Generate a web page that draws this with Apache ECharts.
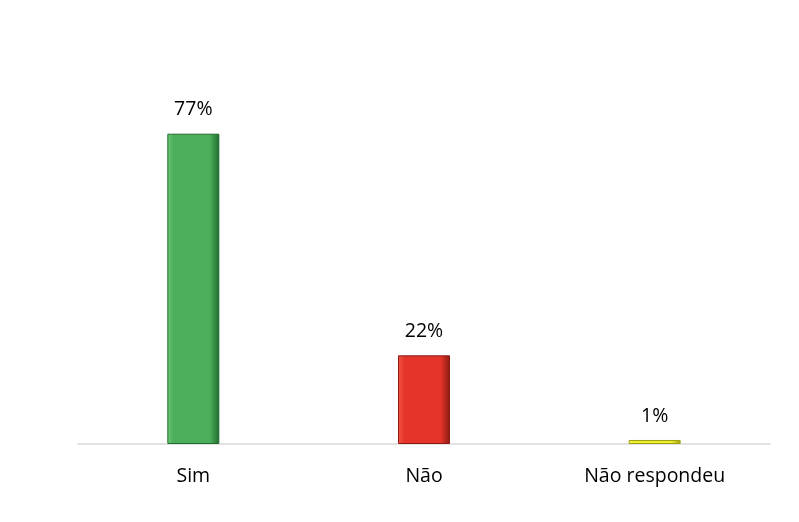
<!DOCTYPE html>
<html><head><meta charset="utf-8">
<script src="https://cdn.jsdelivr.net/npm/echarts@6/dist/echarts.min.js"></script>
<style>html,body{margin:0;padding:0;background:#fff}#c{width:799px;height:522px}</style>
</head><body><div id="c"></div>
<script>
const categories = ['Sim', 'Não', 'Não respondeu'];
const values = [77, 22, 1];
const barColors = [
  ['#6cc978', '#4cad5b', '#1f6a2c'],
  ['#f2554a', '#e5352a', '#8a1a12'],
  ['#f8f860', '#eeee30', '#a0a010']
];
const chart = echarts.init(document.getElementById('c'));
chart.setOption({
  animation: false,
  grid: { left: 78, right: 29, top: 41, bottom: 78 },
  xAxis: {
    type: 'category', data: categories,
    axisLine: { lineStyle: { color: '#d9d9d9', width: 1.5 } },
    axisTick: { show: false },
    axisLabel: { color: '#000', fontFamily: 'Open Sans', fontSize: 19.5, margin: 22 }
  },
  yAxis: { type: 'value', min: 0, max: 100, show: false, splitLine: { show: false } },
  series: [{
    type: 'bar', barWidth: 52,
    data: values.map((v, i) => ({
      value: v,
      itemStyle: {
        color: new echarts.graphic.LinearGradient(0, 0, 1, 0, [
          { offset: 0, color: barColors[i][0] },
          { offset: 0.12, color: barColors[i][1] },
          { offset: 0.82, color: barColors[i][1] },
          { offset: 1, color: barColors[i][2] }
        ]),
        borderColor: barColors[i][2], borderWidth: 1
      }
    })),
    label: {
      show: true, position: 'top', distance: 14,
      formatter: p => p.value + '%',
      color: '#000', fontFamily: 'Open Sans', fontSize: 19.5
    }
  }]
});
</script></body></html>
